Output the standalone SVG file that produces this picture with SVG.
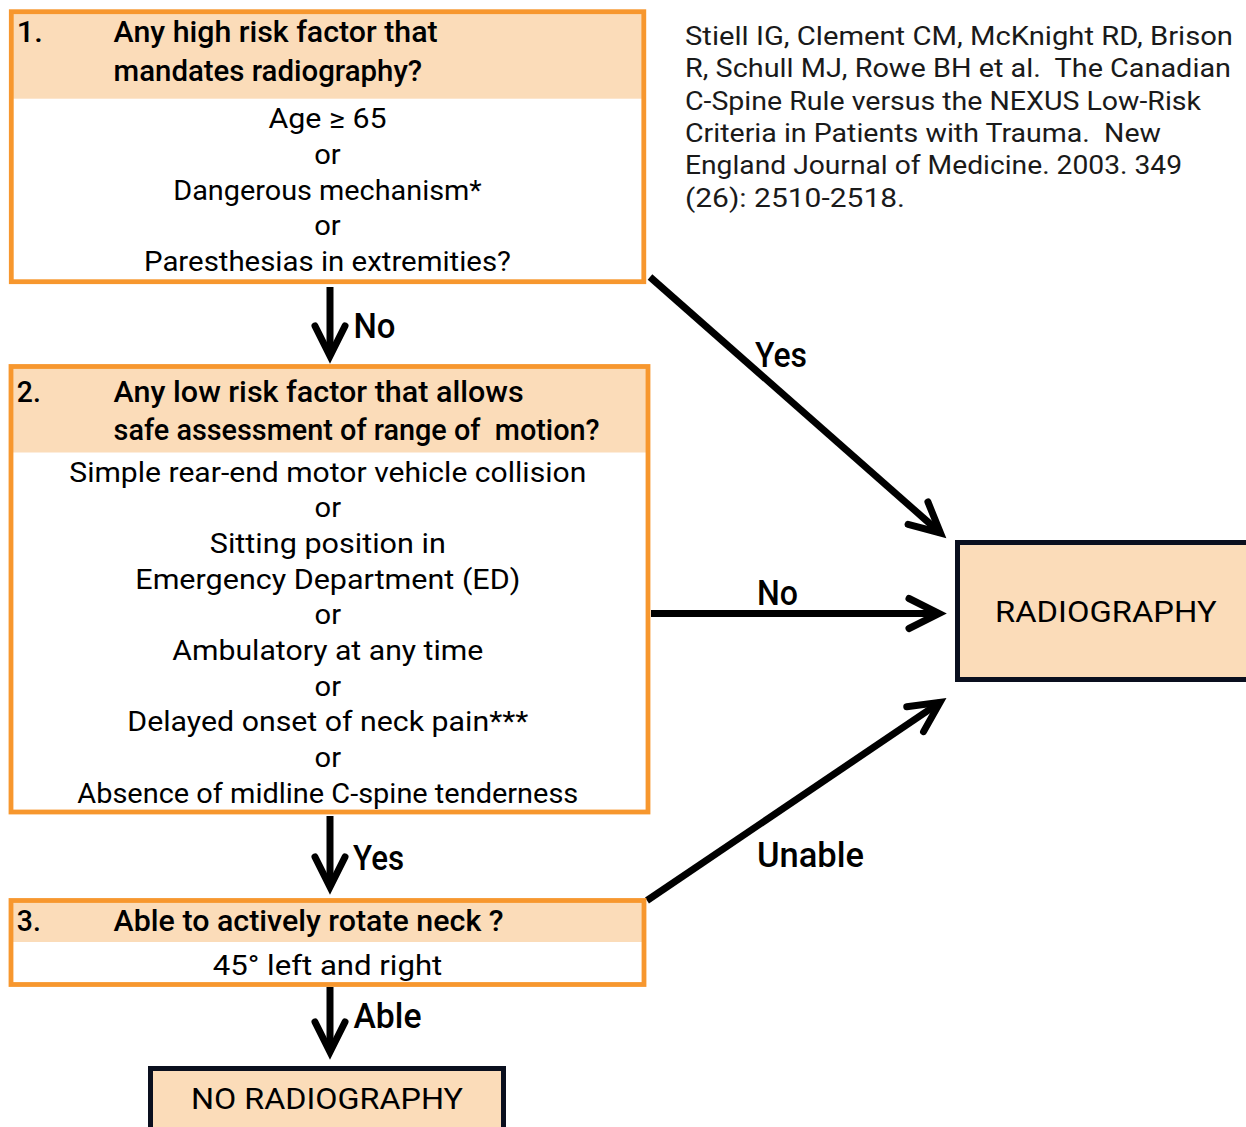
<svg xmlns="http://www.w3.org/2000/svg" width="1246" height="1127" viewBox="0 0 1246 1127">
<style>
.box{fill:none;stroke:#F7972E;stroke-width:4.8}
.hdr{fill:#FBDCB9}
.term{fill:#FBDCB9;stroke:#0A0F1E;stroke-width:5}
text{font-family:Roboto,"Liberation Sans",sans-serif;fill:#000}
.pre{white-space:pre}
.h{font-size:30px;font-weight:500}
.b{font-size:28px;text-anchor:middle}
.t{font-size:30px;text-anchor:middle}
.lbl{font-size:35px;font-weight:500}
.cit{font-size:26px;fill:#1a1a1a}
.conn{stroke:#000;stroke-width:7;fill:none;marker-end:url(#ah)}
</style>
<defs>
<marker id="ah" markerUnits="userSpaceOnUse" orient="auto" refX="0" refY="0" markerWidth="60" markerHeight="60" viewBox="-40 -30 60 60" overflow="visible">
<path d="M-30,-15 L0,0 L-30,15" fill="none" stroke="#000" stroke-width="7" stroke-linecap="round" stroke-linejoin="miter"/>
</marker>
</defs>
<rect width="1246" height="1127" fill="#fff"/>

<g id="citation">
<text class="cit" x="685" y="45" textLength="548" lengthAdjust="spacingAndGlyphs">Stiell IG, Clement CM, McKnight RD, Brison</text>
<text class="cit pre" x="685" y="77.3" textLength="546" lengthAdjust="spacingAndGlyphs">R, Schull MJ, Rowe BH et al.  The Canadian</text>
<text class="cit" x="685" y="109.7" textLength="516" lengthAdjust="spacingAndGlyphs">C-Spine Rule versus the NEXUS Low-Risk</text>
<text class="cit pre" x="685" y="142" textLength="476" lengthAdjust="spacingAndGlyphs">Criteria in Patients with Trauma.  New</text>
<text class="cit" x="685" y="174.3" textLength="497" lengthAdjust="spacingAndGlyphs">England Journal of Medicine. 2003. 349</text>
<text class="cit" x="685" y="206.7" textLength="220" lengthAdjust="spacingAndGlyphs">(26): 2510-2518.</text>
</g>

<g id="connectors">
<path class="conn" d="M330,287 L330,356"/>
<path class="conn" d="M330,816 L330,887"/>
<path class="conn" d="M330,987 L330,1052"/>
<path class="conn" d="M650,277 L940.5,533"/>
<path class="conn" d="M651,613.5 L939,613.5"/>
<path class="conn" d="M647,900.5 L940,702.4"/>
<text class="lbl" x="353.5" y="338.3" textLength="42" lengthAdjust="spacingAndGlyphs">No</text>
<text class="lbl" x="353" y="870" textLength="51" lengthAdjust="spacingAndGlyphs">Yes</text>
<text class="lbl" x="353.5" y="1028.3" textLength="68" lengthAdjust="spacingAndGlyphs">Able</text>
<text class="lbl" x="755" y="367.3" textLength="52" lengthAdjust="spacingAndGlyphs">Yes</text>
<text class="lbl" x="757" y="605" textLength="41" lengthAdjust="spacingAndGlyphs">No</text>
<text class="lbl" x="757" y="866.7" textLength="107" lengthAdjust="spacingAndGlyphs">Unable</text>
</g>

<g id="node1">
<rect x="11.3" y="11.7" width="632.5" height="270" fill="#fff"/>
<rect class="hdr" x="11.3" y="11.7" width="632.5" height="87"/>
<rect class="box" x="11.3" y="11.7" width="632.5" height="270"/>
<text class="h" x="16.8" y="42.3" textLength="26" lengthAdjust="spacingAndGlyphs">1.</text>
<text class="h" x="113.6" y="42.3" textLength="324" lengthAdjust="spacingAndGlyphs">Any high risk factor that</text>
<text class="h" x="113.6" y="81" textLength="308.5" lengthAdjust="spacingAndGlyphs">mandates radiography?</text>
<text class="b" x="327.5" y="128.3" textLength="118" lengthAdjust="spacingAndGlyphs">Age ≥ 65</text>
<text class="b" x="327.5" y="164" textLength="26.5" lengthAdjust="spacingAndGlyphs">or</text>
<text class="b" x="327.5" y="199.5" textLength="308.5" lengthAdjust="spacingAndGlyphs">Dangerous mechanism*</text>
<text class="b" x="327.5" y="235" textLength="26.5" lengthAdjust="spacingAndGlyphs">or</text>
<text class="b" x="327.5" y="270.7" textLength="367" lengthAdjust="spacingAndGlyphs">Paresthesias in extremities?</text>
</g>

<g id="node2">
<rect x="11" y="366.5" width="637" height="445.5" fill="#fff"/>
<rect class="hdr" x="11" y="366.5" width="637" height="86"/>
<rect class="box" x="11" y="366.5" width="637" height="445.5"/>
<text class="h" x="16.8" y="401.7" textLength="24" lengthAdjust="spacingAndGlyphs">2.</text>
<text class="h" x="113.6" y="401.7" textLength="410" lengthAdjust="spacingAndGlyphs">Any low risk factor that allows</text>
<text class="h pre" x="113.6" y="440" textLength="486" lengthAdjust="spacingAndGlyphs">safe assessment of range of  motion?</text>
<text class="b" x="327.8" y="481.7" textLength="517" lengthAdjust="spacingAndGlyphs">Simple rear-end motor vehicle collision</text>
<text class="b" x="327.8" y="517.4" textLength="26.5" lengthAdjust="spacingAndGlyphs">or</text>
<text class="b" x="327.8" y="553" textLength="236" lengthAdjust="spacingAndGlyphs">Sitting position in</text>
<text class="b" x="327.8" y="588.7" textLength="385" lengthAdjust="spacingAndGlyphs">Emergency Department (ED)</text>
<text class="b" x="327.8" y="624.4" textLength="26.5" lengthAdjust="spacingAndGlyphs">or</text>
<text class="b" x="327.8" y="660" textLength="311" lengthAdjust="spacingAndGlyphs">Ambulatory at any time</text>
<text class="b" x="327.8" y="695.7" textLength="26.5" lengthAdjust="spacingAndGlyphs">or</text>
<text class="b" x="327.8" y="731.4" textLength="401" lengthAdjust="spacingAndGlyphs">Delayed onset of neck pain***</text>
<text class="b" x="327.8" y="767" textLength="26.5" lengthAdjust="spacingAndGlyphs">or</text>
<text class="b" x="327.8" y="802.7" textLength="501" lengthAdjust="spacingAndGlyphs">Absence of midline C-spine tenderness</text>
</g>

<g id="node3">
<rect x="11" y="900.5" width="633" height="84" fill="#fff"/>
<rect class="hdr" x="11" y="900.5" width="633" height="41.5"/>
<rect class="box" x="11" y="900.5" width="633" height="84"/>
<text class="h" x="16.8" y="930.7" textLength="24" lengthAdjust="spacingAndGlyphs">3.</text>
<text class="h" x="113.6" y="930.7" textLength="390" lengthAdjust="spacingAndGlyphs">Able to actively rotate neck ?</text>
<text class="b" x="327.5" y="975" textLength="229.5" lengthAdjust="spacingAndGlyphs">45° left and right</text>
</g>

<g id="radiography">
<rect class="term" x="957.5" y="542.5" width="300" height="137"/>
<text class="t" x="1105.8" y="621.7" textLength="221.5" lengthAdjust="spacingAndGlyphs">RADIOGRAPHY</text>
</g>

<g id="no-radiography">
<rect class="term" x="150.5" y="1068.5" width="353" height="80"/>
<text class="t" x="327" y="1109.3" textLength="272" lengthAdjust="spacingAndGlyphs">NO RADIOGRAPHY</text>
</g>
</svg>
